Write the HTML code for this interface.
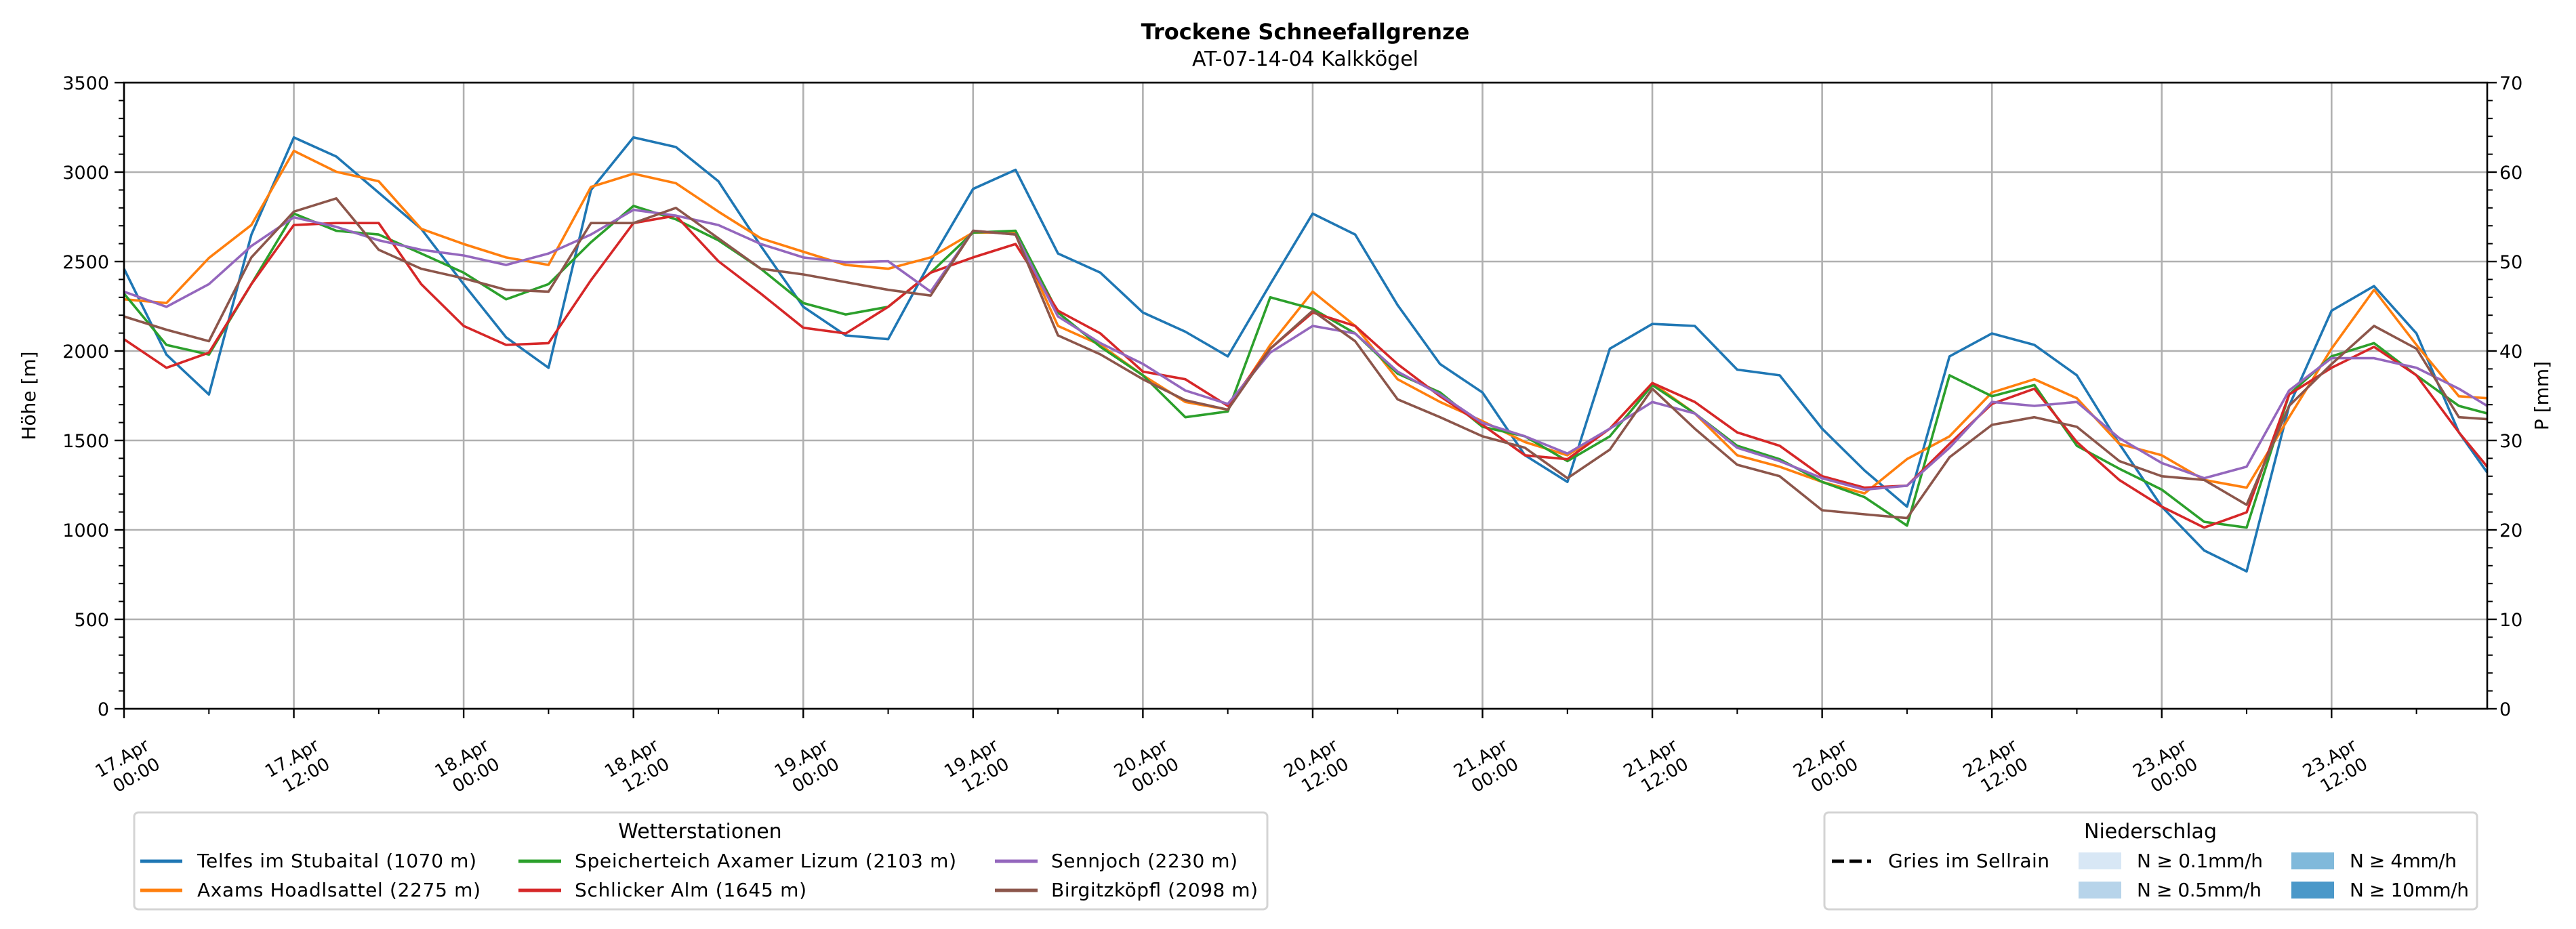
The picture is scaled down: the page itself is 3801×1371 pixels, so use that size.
<!DOCTYPE html>
<html><head><meta charset="utf-8"><title>Trockene Schneefallgrenze</title>
<style>
html,body{margin:0;padding:0;background:#fff;}
svg{display:block;font-family:"DejaVu Sans","Liberation Sans",sans-serif;}
</style></head>
<body>
<svg id="chart" width="3801" height="1371" viewBox="0 0 3801 1371" xmlns="http://www.w3.org/2000/svg">
<rect width="3801" height="1371" fill="#fff"/>
<text x="1926" y="58" text-anchor="middle" font-size="32" font-weight="bold">Trockene Schneefallgrenze</text>
<text x="1926" y="97" text-anchor="middle" font-size="30">AT-07-14-04 Kalkkögel</text>
<g id="grid"></g>
<g id="series"></g>
<g id="axes"></g>
<text transform="translate(52,584) rotate(-90)" text-anchor="middle" font-size="28">Höhe [m]</text>
<text transform="translate(3760,584) rotate(-90)" text-anchor="middle" font-size="28">P [mm]</text>

<g>
<rect x="198" y="1199" width="1672" height="143" rx="6" fill="#fff" stroke="#d4d4d4" stroke-width="3"/>
<text x="1033" y="1237" text-anchor="middle" font-size="30">Wetterstationen</text>
<g><line x1="207" y1="1271" x2="269" y2="1271" stroke="#1f77b4" stroke-width="5"/><text x="291" y="1280" font-size="28" textLength="412">Telfes im Stubaital (1070 m)</text></g>
<g><line x1="207" y1="1314" x2="269" y2="1314" stroke="#ff7f0e" stroke-width="5"/><text x="291" y="1323" font-size="28" textLength="418">Axams Hoadlsattel (2275 m)</text></g>
<g><line x1="765" y1="1271" x2="828" y2="1271" stroke="#2ca02c" stroke-width="5"/><text x="848" y="1280" font-size="28" textLength="563">Speicherteich Axamer Lizum (2103 m)</text></g>
<g><line x1="765" y1="1314" x2="828" y2="1314" stroke="#d62728" stroke-width="5"/><text x="848" y="1323" font-size="28" textLength="342">Schlicker Alm (1645 m)</text></g>
<g><line x1="1468" y1="1271" x2="1531" y2="1271" stroke="#9467bd" stroke-width="5"/><text x="1551" y="1280" font-size="28" textLength="275">Sennjoch (2230 m)</text></g>
<g><line x1="1468" y1="1314" x2="1531" y2="1314" stroke="#8c564b" stroke-width="5"/><text x="1551" y="1323" font-size="28" textLength="305">Birgitzköpfl (2098 m)</text></g>
</g>

<g>
<rect x="2692" y="1199" width="963" height="143" rx="6" fill="#fff" stroke="#d4d4d4" stroke-width="3"/>
<text x="3173" y="1237" text-anchor="middle" font-size="30">Niederschlag</text>
<g><line x1="2703" y1="1271" x2="2761" y2="1271" stroke="#000" stroke-width="5" stroke-dasharray="18,8"/><text x="2786" y="1280" font-size="28" textLength="238">Gries im Sellrain</text></g>
<g><rect x="3067" y="1258" width="63" height="25" fill="#d8e7f5"/><text x="3153" y="1280" font-size="28" textLength="186">N ≥ 0.1mm/h</text></g>
<g><rect x="3067" y="1301" width="63" height="25" fill="#b7d4ea"/><text x="3153" y="1323" font-size="28" textLength="184">N ≥ 0.5mm/h</text></g>
<g><rect x="3381" y="1258" width="63" height="25" fill="#80b9db"/><text x="3467" y="1280" font-size="28" textLength="158">N ≥ 4mm/h</text></g>
<g><rect x="3381" y="1301" width="63" height="25" fill="#4a98c9"/><text x="3467" y="1323" font-size="28" textLength="176">N ≥ 10mm/h</text></g>
</g>
</svg>
<script>
const hours = [0,3,6,9,12,15,18,21,24,27,30,33,36,39,42,45,48,51,54,57,60,63,66,69,72,75,78,81,84,87,90,93,96,99,102,105,108,111,114,117,120,123,126,129,132,135,138,141,144,147,150,153,156,159,162,165,167];
const telfes = [2460,1980,1757,2650,3194,3087,2885,2683,2374,2076,1906,2900,3194,3140,2949,2587,2247,2087,2066,2502,2906,3013,2545,2438,2215,2108,1970,2374,2768,2651,2257,1927,1768,1417,1268,2013,2151,2140,1896,1864,1566,1332,1130,1970,2098,2034,1864,1481,1130,885,768,1693,2225,2363,2098,1545,1321];
const axams = [2289,2268,2520,2704,3119,3002,2949,2683,2598,2523,2481,2917,2991,2938,2779,2630,2555,2481,2460,2523,2662,2662,2140,2034,1864,1715,1672,2034,2332,2140,1842,1715,1608,1491,1417,1566,1821,1651,1417,1353,1268,1204,1396,1523,1768,1842,1736,1481,1417,1279,1236,1630,2013,2342,2034,1747,1736];
const speicherteich = [2321,2034,1980,2374,2768,2672,2651,2545,2438,2289,2374,2608,2811,2736,2619,2460,2268,2204,2247,2438,2662,2672,2215,2023,1864,1630,1662,2300,2236,2098,1874,1768,1576,1523,1385,1523,1810,1651,1470,1395,1268,1183,1024,1864,1747,1810,1470,1342,1225,1045,1013,1757,1970,2044,1864,1693,1651];
const schlicker = [2066,1906,1991,2374,2704,2715,2715,2374,2140,2034,2044,2396,2715,2757,2502,2321,2130,2098,2247,2438,2523,2598,2225,2098,1885,1842,1693,2013,2215,2140,1927,1747,1587,1417,1395,1566,1821,1715,1545,1470,1300,1236,1247,1481,1704,1789,1491,1279,1130,1013,1098,1757,1906,2023,1864,1545,1353];
const sennjoch = [2332,2247,2374,2587,2747,2694,2619,2566,2534,2481,2545,2651,2789,2757,2704,2598,2523,2496,2502,2332,2672,2651,2193,2044,1928,1779,1704,1991,2140,2098,1885,1757,1598,1523,1427,1566,1715,1651,1459,1385,1289,1225,1247,1459,1715,1693,1715,1513,1374,1289,1353,1779,1960,1960,1906,1789,1693];
const birgitz = [2193,2119,2055,2523,2779,2853,2566,2460,2406,2342,2332,2715,2715,2800,2630,2460,2428,2385,2342,2310,2672,2651,2087,1981,1842,1725,1672,2013,2225,2055,1730,1630,1523,1459,1289,1449,1789,1566,1364,1300,1110,1087,1066,1406,1587,1630,1576,1385,1300,1279,1140,1693,1927,2140,2013,1630,1619];
const yTicks = [0,500,1000,1500,2000,2500,3000,3500];
const y2Ticks = [0,10,20,30,40,50,60,70];
const xTickLabels = [["17.Apr","00:00"],["17.Apr","12:00"],["18.Apr","00:00"],["18.Apr","12:00"],["19.Apr","00:00"],["19.Apr","12:00"],["20.Apr","00:00"],["20.Apr","12:00"],["21.Apr","00:00"],["21.Apr","12:00"],["22.Apr","00:00"],["22.Apr","12:00"],["23.Apr","00:00"],["23.Apr","12:00"]];

const NS="http://www.w3.org/2000/svg";
const L=183,R=3670,T=122,B=1046,HMAX=167,YMAX=3500;
const xs=h=>L+(R-L)*h/HMAX;
const ys=v=>B-(B-T)*v/YMAX;
const y2s=v=>B-(B-T)*v/70;
function mk(tag,attrs,parent){const e=document.createElementNS(NS,tag);for(const k in attrs)e.setAttribute(k,attrs[k]);parent.appendChild(e);return e;}
const grid=document.getElementById('grid'),axes=document.getElementById('axes'),ser=document.getElementById('series');

yTicks.forEach(v=>{
  const g=mk('line',{x1:L,x2:R,y1:ys(v),y2:ys(v),stroke:'#b0b0b0','stroke-width':2.6},grid);
  
  
  const tk=mk('line',{x1:L-14,x2:L,y1:ys(v),y2:ys(v),stroke:'#000','stroke-width':2.4},axes);
  
  
  const t=mk('text',{x:L-22,y:ys(v)+10,'text-anchor':'end','font-size':27},axes);
  t.textContent=v;
  
  
});
for(let v=0;v<=YMAX;v+=100){if(v%500)mk('line',{x1:L-8,x2:L,y1:ys(v),y2:ys(v),stroke:'#000','stroke-width':2},axes);}
y2Ticks.forEach(v=>{
  const tk=mk('line',{x1:R,x2:R+14,y1:y2s(v),y2:y2s(v),stroke:'#000','stroke-width':2.4},axes);
  
  
  const t=mk('text',{x:R+18,y:y2s(v)+10,'font-size':27},axes);
  t.textContent=v;
  
  
});
for(let v=0;v<=70;v+=2){if(v%10)mk('line',{x1:R,x2:R+8,y1:y2s(v),y2:y2s(v),stroke:'#000','stroke-width':2},axes);}
xTickLabels.forEach((lab,i)=>{
  const x=xs(i*12);
  const g=mk('line',{x1:x,x2:x,y1:T,y2:B,stroke:'#b0b0b0','stroke-width':2.6},grid);
  
  
  const tk=mk('line',{x1:x,x2:x,y1:B,y2:B+14,stroke:'#000','stroke-width':2.4},axes);
  
  
  const grp=mk('g',{transform:`translate(${x+39},1105) rotate(-30)`,'font-size':26,'text-anchor':'end'},axes);
  
  
  mk('text',{x:0,y:0},grp).textContent=lab[0];
  mk('text',{x:0,y:32},grp).textContent=lab[1];
});
for(let h=6;h<HMAX;h+=12)mk('line',{x1:xs(h),x2:xs(h),y1:B,y2:B+8,stroke:'#000','stroke-width':2},axes);

const seriesList=[["telfes-line",telfes,"#1f77b4"],["axams-line",axams,"#ff7f0e"],["speicherteich-line",speicherteich,"#2ca02c"],["schlicker-line",schlicker,"#d62728"],["sennjoch-line",sennjoch,"#9467bd"],["birgitzkoepfl-line",birgitz,"#8c564b"]];
seriesList.forEach(s=>{
  const pts=s[1].map((v,i)=>xs(hours[i]).toFixed(1)+','+ys(v).toFixed(1)).join(' ');
  const p=mk('polyline',{points:pts,fill:'none',stroke:s[2],'stroke-width':3.6,'stroke-linejoin':'round'},ser);
  
  
});
mk('rect',{x:L,y:T,width:R-L,height:B-T,fill:'none',stroke:'#000','stroke-width':2.6},axes);
</script>
</body></html>
